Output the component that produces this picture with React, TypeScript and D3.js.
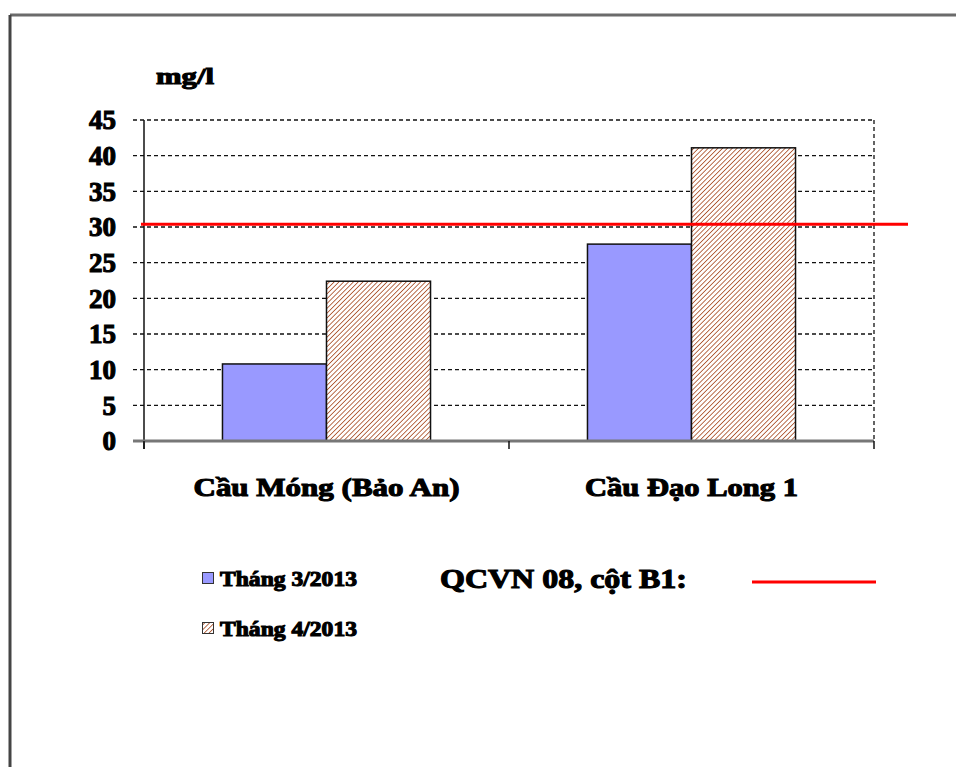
import React from "react";
import * as d3 from "d3";

// Monitoring stations and measured values (mg/l)
const categories = ["Cầu Móng (Bảo An)", "Cầu Đạo Long 1"];
const seriesNames = ["Tháng 3/2013", "Tháng 4/2013"];
const march2013 = [10.8, 27.6];
const april2013 = [22.4, 41.1];
const yTicks = [0, 5, 10, 15, 20, 25, 30, 35, 40, 45];
const thresholdValue = 30.4;
const thresholdLabel = "QCVN 08, cột B1:";
const unitLabel = "mg/l";

const W = 956;
const H = 767;
const left = 144;
const right = 874;
const top = 120;
const bottom = 441;

const FONT = "'Liberation Serif', 'Times New Roman', serif";

export default function App() {
  const x = d3
    .scaleBand<string>()
    .domain(categories)
    .range([left, right])
    .paddingInner(0.43)
    .paddingOuter(0.215);
  const sub = d3
    .scaleBand<string>()
    .domain(seriesNames)
    .range([0, x.bandwidth()]);
  const y = d3.scaleLinear().domain([0, 45]).range([bottom, top]);

  const series = [
    { name: seriesNames[0], values: march2013, fill: "#9999ff" },
    { name: seriesNames[1], values: april2013, fill: "url(#hatch)" },
  ];

  const textStyle = {
    fontFamily: FONT,
    fontWeight: 700,
    fill: "#000",
    stroke: "#000",
    strokeWidth: 1.1,
  } as React.CSSProperties;

  return (
    <svg
      width={W}
      height={H}
      style={{ position: "absolute", left: 0, top: 0, background: "#fff" }}
    >
      <defs>
        <pattern
          id="hatch"
          patternUnits="userSpaceOnUse"
          width={3.4}
          height={3.4}
          patternTransform="rotate(45)"
        >
          <rect width={3.4} height={3.4} fill="#fff" />
          <line x1={0} y1={0} x2={0} y2={3.4} stroke="#a84a22" strokeWidth={1.6} />
        </pattern>
      </defs>

      {/* frame */}
      <line x1={10} y1={15} x2={W} y2={15} stroke="#6b6b6b" strokeWidth={3} />
      <line x1={10} y1={15} x2={10} y2={H} stroke="#444" strokeWidth={3} />

      {/* unit */}
      <text x={156} y={84} fontSize={24} textLength={58} lengthAdjust="spacingAndGlyphs" style={textStyle}>
        {unitLabel}
      </text>

      {/* horizontal gridlines */}
      {yTicks
        .filter((t) => t > 0)
        .map((t) => (
          <line
            key={"g" + t}
            x1={133}
            x2={right}
            y1={y(t)}
            y2={y(t)}
            stroke="#111"
            strokeWidth={1.3}
            strokeDasharray="4,3"
          />
        ))}
      {/* right plot border */}
      <line x1={right} x2={right} y1={top} y2={bottom} stroke="#111" strokeWidth={1.3} strokeDasharray="4,3" />

      {/* y tick labels */}
      {yTicks.map((t) => (
        <text
          key={"t" + t}
          x={116}
          y={y(t)}
          dy="0.34em"
          fontSize={27}
          textAnchor="end"
          style={textStyle}
        >
          {t}
        </text>
      ))}

      {/* bars */}
      {series.map((s) =>
        categories.map((c, i) => (
          <rect
            key={s.name + c}
            x={(x(c) ?? 0) + (sub(s.name) ?? 0)}
            y={y(s.values[i])}
            width={sub.bandwidth()}
            height={bottom - y(s.values[i])}
            fill={s.fill}
            stroke="#111"
            strokeWidth={1.5}
          />
        ))
      )}

      {/* axes */}
      <line x1={left} x2={left} y1={top} y2={bottom + 8} stroke="#111" strokeWidth={1.5} />
      <line x1={133} x2={left} y1={bottom} y2={bottom} stroke="#777" strokeWidth={3} />
      <line x1={left} x2={right} y1={bottom} y2={bottom} stroke="#777" strokeWidth={3} />
      {[left, (x(categories[1]) ?? 0) - (x.step() - x.bandwidth()) / 2, right].map((px, i) => (
        <line key={"xt" + i} x1={px} x2={px} y1={bottom} y2={bottom + 8} stroke="#111" strokeWidth={1.5} />
      ))}

      {/* threshold line */}
      <line
        x1={141}
        x2={908}
        y1={y(thresholdValue)}
        y2={y(thresholdValue)}
        stroke="#ff0000"
        strokeWidth={3}
      />

      {/* category labels */}
      {categories.map((c, i) => (
        <text
          key={"c" + c}
          x={(x(c) ?? 0) + x.bandwidth() / 2}
          y={496}
          fontSize={26}
          textAnchor="middle"
          textLength={i === 0 ? 266 : 213}
          lengthAdjust="spacingAndGlyphs"
          style={textStyle}
        >
          {c}
        </text>
      ))}

      {/* legend */}
      <rect x={202.5} y={572.5} width={11} height={11} fill="#9999ff" stroke="#333" strokeWidth={1} />
      <text x={220} y={586} fontSize={21} textLength={137} lengthAdjust="spacingAndGlyphs" style={textStyle}>
        {seriesNames[0]}
      </text>
      <rect x={202.5} y={622.5} width={11} height={11} fill="url(#hatch)" stroke="#333" strokeWidth={1} />
      <text x={220} y={636} fontSize={21} textLength={137} lengthAdjust="spacingAndGlyphs" style={textStyle}>
        {seriesNames[1]}
      </text>

      <text x={440} y={588} fontSize={27} textLength={247} lengthAdjust="spacingAndGlyphs" style={textStyle}>
        {thresholdLabel}
      </text>
      <line x1={752} x2={876} y1={582} y2={582} stroke="#ff0000" strokeWidth={3} />
    </svg>
  );
}
